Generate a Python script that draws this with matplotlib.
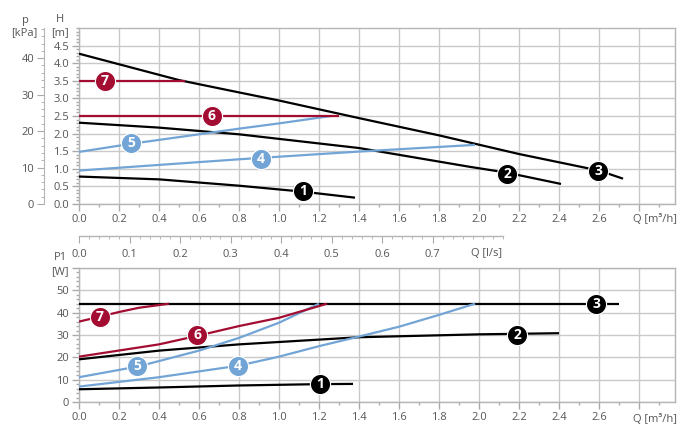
import numpy as np
import matplotlib
matplotlib.use("Agg")
import matplotlib.pyplot as plt
from matplotlib.ticker import MultipleLocator, FixedLocator

plt.rcParams['font.family'] = ['Open Sans', 'DejaVu Sans']

BLACK = '#000000'
RED = '#a30d31'
BLUE = '#72a5d6'
GRID = '#c9c9c9'
TXT = '#555555'
FS = 8

# --- head curves H [m] vs Q [m3/h] ---
q1_h = [0, 0.4, 0.8, 1.12, 1.38]
h1 = [0.78, 0.70, 0.52, 0.35, 0.18]
q2_h = [0, 0.4, 0.8, 1.4, 1.95, 2.14, 2.41]
h2 = [2.31, 2.17, 1.98, 1.59, 1.06, 0.89, 0.57]
q3_h = [0, 0.5, 0.8, 1.0, 1.4, 1.8, 2.2, 2.6, 2.72]
h3 = [4.27, 3.52, 3.17, 2.94, 2.44, 1.95, 1.42, 0.95, 0.72]
q4_h = [0, 0.4, 0.8, 1.4, 1.98]
h4 = [0.95, 1.11, 1.27, 1.49, 1.68]
q5_h = [0, 0.26, 0.5, 0.8, 1.0, 1.26]
h5 = [1.48, 1.71, 1.90, 2.14, 2.29, 2.50]
q6_h = [0, 1.3]
h6 = [2.5, 2.5]
q7_h = [0, 0.53]
h7 = [3.5, 3.5]

# --- power curves P1 [W] vs Q [m3/h] ---
q1_p = [0, 0.4, 0.8, 1.2, 1.37]
p1 = [5.7, 6.5, 7.4, 8.0, 8.1]
q2_p = [0, 0.4, 0.8, 1.4, 2.0, 2.4]
p2 = [19.1, 23.0, 25.8, 29.0, 30.3, 30.8]
q3_p = [0, 2.7]
p3 = [44, 44]
q4_p = [0, 0.4, 0.8, 1.0, 1.2, 1.4, 1.6, 1.8, 1.98]
p4 = [6.9, 11.1, 16.3, 20.3, 25.0, 29.3, 33.7, 39.0, 44]
q5_p = [0, 0.3, 0.6, 0.8, 1.0, 1.2]
p5 = [11.1, 16.0, 23.0, 28.7, 35.5, 44]
q6_p = [0, 0.4, 0.6, 0.8, 1.0, 1.24]
p6 = [20.3, 25.8, 29.8, 34.0, 37.7, 44]
q7_p = [0, 0.1, 0.2, 0.3, 0.45]
p7 = [36.0, 38.1, 40.3, 42.2, 44]

# curve number badges
badge_ids = ['1', '2', '3', '4', '5', '6', '7']
badge_colors = [BLACK, BLACK, BLACK, BLUE, BLUE, RED, RED]
badge_q_h = [1.12, 2.14, 2.595, 0.91, 0.26, 0.665, 0.13]
badge_h = [0.37, 0.86, 0.94, 1.28, 1.72, 2.5, 3.5]
badge_q_p = [1.205, 2.19, 2.585, 0.795, 0.29, 0.59, 0.105]
badge_p = [8.2, 30.1, 44, 16.3, 16.3, 30.2, 38.1]

h_ticks = np.arange(0, 4.51, 0.5)
p_ticks = np.arange(0, 60.1, 10)
kpa_ticks = np.arange(0, 40.1, 10)
q_ticks = np.arange(0, 2.81, 0.2)
ls_ticks = np.arange(0, 0.71, 0.1)
ls_end = 0.84

KPA_PER_M = 9.65
M3H_PER_LS = 2.525
W, H = 677, 425


def style_axes(ax, yticks, ymax):
    ax.set_xlim(0, 2.98)
    ax.set_ylim(0, ymax)
    ax.set_xticks(q_ticks)
    ax.set_xticklabels([f'{v:.1f}' if v < 2.7 else '' for v in q_ticks])
    ax.xaxis.set_minor_locator(MultipleLocator(0.1))
    ax.set_yticks(yticks)
    for s in ax.spines.values():
        s.set_color('#b5b5b5')
        s.set_linewidth(1.0)
    ax.grid(True, which='major', color=GRID, lw=1.0)
    ax.tick_params(which='major', length=5, width=1, color='#aaaaaa',
                   labelsize=FS, labelcolor=TXT, pad=2)
    ax.tick_params(which='minor', length=2.5, width=1, color='#aaaaaa')
    ax.set_axisbelow(True)


def badges(ax, xs, ys):
    for lab, c, x, y in zip(badge_ids, badge_colors, xs, ys):
        ax.plot(x, y, 'o', ms=14.5, mfc=c, mec='white', mew=0.8, zorder=5)
        ax.text(x, y, lab, color='white', fontsize=10, fontweight='bold',
                ha='center', va='center', zorder=6)


fig = plt.figure(figsize=(W / 100, H / 100), dpi=100)

# ---------- top chart ----------
ax1 = fig.add_axes([79 / W, 1 - 204 / H, 596 / W, 176 / H])
style_axes(ax1, h_ticks, 5.0)
ax1.set_yticklabels([f'{v:.1f}' for v in h_ticks])
ax1.yaxis.set_minor_locator(MultipleLocator(0.1))

for q, v, c in [(q1_h, h1, BLACK), (q2_h, h2, BLACK), (q3_h, h3, BLACK),
                (q4_h, h4, BLUE), (q5_h, h5, BLUE), (q6_h, h6, RED), (q7_h, h7, RED)]:
    ax1.plot(q, v, color=c, lw=1.6, solid_capstyle='butt', zorder=3)
badges(ax1, badge_q_h, badge_h)

# kPa axis
sec_p = ax1.secondary_yaxis(-35 / 596, functions=(lambda h: h * KPA_PER_M,
                                                  lambda p: p / KPA_PER_M))
sec_p.set_yticks(kpa_ticks)
sec_p.yaxis.set_minor_locator(MultipleLocator(2))
sec_p.spines['left'].set_color('#b5b5b5')
sec_p.tick_params(which='major', length=5, color='#aaaaaa', labelsize=FS,
                  labelcolor=TXT, pad=2)
sec_p.tick_params(which='minor', length=2.5, color='#aaaaaa')

# l/s axis (line only runs to ~0.84 l/s)
ls_y = -32 / 176
sec_q = ax1.secondary_xaxis(ls_y, functions=(lambda q: q / M3H_PER_LS,
                                             lambda l: l * M3H_PER_LS))
sec_q.set_xticks(ls_ticks)
sec_q.set_xticklabels([f'{v:.1f}' for v in ls_ticks])
sec_q.xaxis.set_minor_locator(FixedLocator(np.arange(0, ls_end + 0.001, 0.02)))
sec_q.spines['bottom'].set_visible(False)
sec_q.tick_params(which='major', length=5, color='#aaaaaa', labelsize=FS,
                  labelcolor=TXT, pad=4)
sec_q.tick_params(which='minor', length=2.5, color='#aaaaaa')
ax1.plot([0, ls_end * M3H_PER_LS], [ls_y, ls_y], color='#b5b5b5', lw=1.0,
         transform=ax1.get_xaxis_transform(), clip_on=False)

fig.text(25 / W, 1 - 20 / H, 'p', ha='center', va='center', fontsize=FS, color=TXT)
fig.text(24 / W, 1 - 33 / H, '[kPa]', ha='center', va='center', fontsize=FS, color=TXT)
fig.text(60 / W, 1 - 19 / H, 'H', ha='center', va='center', fontsize=FS, color=TXT)
fig.text(60 / W, 1 - 33 / H, '[m]', ha='center', va='center', fontsize=FS, color=TXT)
fig.text(655 / W, 1 - 219 / H, 'Q [m³/h]', ha='center', va='center', fontsize=FS, color=TXT)
fig.text(487 / W, 1 - 254 / H, 'Q [l/s]', ha='center', va='center', fontsize=FS, color=TXT)

# ---------- bottom chart ----------
ax2 = fig.add_axes([79 / W, 1 - 402 / H, 596 / W, 134 / H])
style_axes(ax2, p_ticks, 60)
ax2.set_yticklabels([f'{v:.0f}' if v < 55 else '' for v in p_ticks])
ax2.yaxis.set_minor_locator(MultipleLocator(2))

for q, v, c in [(q1_p, p1, BLACK), (q2_p, p2, BLACK), (q3_p, p3, BLACK),
                (q4_p, p4, BLUE), (q5_p, p5, BLUE), (q6_p, p6, RED), (q7_p, p7, RED)]:
    ax2.plot(q, v, color=c, lw=1.6, solid_capstyle='butt', zorder=3)
badges(ax2, badge_q_p, badge_p)

fig.text(60 / W, 1 - 258 / H, 'P1', ha='center', va='center', fontsize=FS, color=TXT)
fig.text(60 / W, 1 - 272 / H, '[W]', ha='center', va='center', fontsize=FS, color=TXT)
fig.text(655 / W, 1 - 420 / H, 'Q [m³/h]', ha='center', va='center', fontsize=FS, color=TXT)

fig.savefig('out.png', dpi=100, facecolor='white')
